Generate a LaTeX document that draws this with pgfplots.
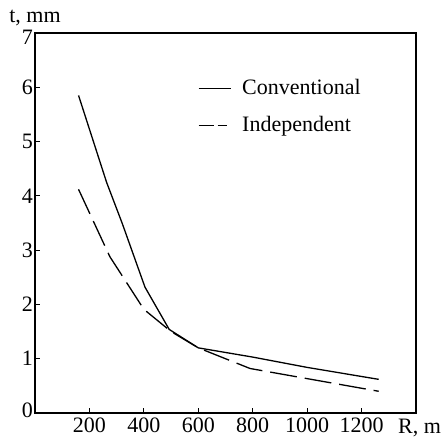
\documentclass[border=0pt]{standalone}
\usepackage{pgfplots}
\pgfplotsset{compat=1.18}
\usepackage{fontspec}
\setmainfont{Liberation Serif}
\begin{document}
\fontsize{22bp}{26bp}\selectfont
\begin{tikzpicture}
\begin{axis}[
  scale only axis,
  width=381bp, height=380bp,
  xmin=0, xmax=1400, ymin=0, ymax=7,
  xtick={200,400,600,800,1000,1200},
  ytick={0,1,2,3,4,5,6,7},
  yticklabels={\raisebox{3bp}[\height][\depth]{0},1,2,3,4,5,6,\raisebox{-4bp}[\height][\depth]{7}},
  xtick pos=bottom, ytick pos=left,
  tick align=inside,
  major tick length=5bp,
  tick style={line width=1bp, black},
  axis line style={line width=1.3bp},
  /pgf/number format/assume math mode=true,
  /pgf/number format/1000 sep={},
  ticklabel style={font=\fontsize{22bp}{26bp}\selectfont},
  yticklabel style={inner sep=2bp},
  xticklabel style={inner sep=2bp, yshift=-3bp},
  legend style={draw=none, fill=none, at={(0.427,0.885)}, anchor=north west,
    font=\fontsize{22bp}{26bp}\selectfont, row sep=15bp, inner sep=0pt},
  legend cell align=left,
]
\addplot[black, line width=1.3bp, legend image code/.code={\draw[black,line width=1.3bp] (0bp,0bp) -- (32bp,0bp);}]
  coordinates {(160,5.85) (263,4.25) (320,3.5) (404,2.32) (493,1.54) (600,1.2) (800,1.03) (1000,0.84) (1263,0.62)};
\addlegendentry{\hspace{9bp}Conventional}
\addplot[black, line width=1.3bp, dash pattern=on 27bp off 8bp,
  legend image code/.code={\draw[black,line width=1.3bp,dash pattern=on 15bp off 4bp on 9bp off 20bp] (0bp,0bp) -- (32bp,0bp);}]
  coordinates {(160,4.12) (275,2.88) (400,1.91) (500,1.5) (600,1.2) (790,0.82) (981,0.65) (1263,0.40)};
\addlegendentry{\hspace{9bp}Independent}
\end{axis}
\node[anchor=base, inner sep=0pt] at ([yshift=10bp]current axis.north west) {t, mm};
\node[anchor=base west, inner sep=0pt] at ([xshift=-18bp,yshift=-20bp]current axis.south east) {R, m};
\pgfresetboundingbox
\path[use as bounding box] ([xshift=-35bp,yshift=-26bp]current axis.south west) rectangle ([xshift=29bp,yshift=33bp]current axis.north east);
\end{tikzpicture}
\end{document}
